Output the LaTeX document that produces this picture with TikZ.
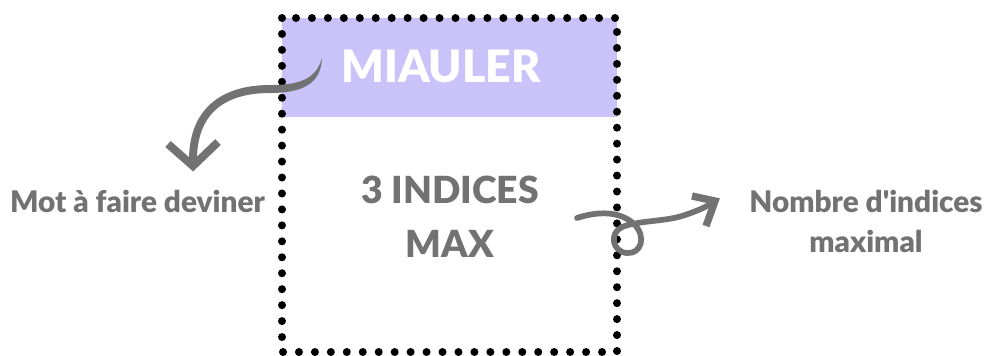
\documentclass[tikz,border=0pt]{standalone}
\usepackage{fontspec}
\setmainfont{Lato}
\newfontfamily\grasse{Lato Black}
\definecolor{lilas}{RGB}{201,195,250}
\definecolor{gris}{RGB}{114,114,114}
\begin{document}
\begin{tikzpicture}[x=0.75pt,y=-0.75pt,
  legende/.style={font=\fontsize{22.3}{30}\selectfont\grasse, text=gris, align=center, inner sep=0pt},
  titre/.style={font=\fontsize{33.5}{40}\selectfont\grasse, text=white, inner sep=0pt},
  indices/.style={font=\fontsize{28}{40.5}\selectfont\grasse, text=gris, align=center, inner sep=0pt},
  pointe/.style={gris, line width=6pt, line cap=butt, line join=miter}]
\useasboundingbox (0,0) rectangle (988,355);
\fill [lilas] (282,18) rectangle (617,117);
\draw [line width=6pt, line cap=round, dash pattern=on 0pt off 11.964pt] (282,18) rectangle (617,352);
\node [titre, anchor=base] (mot) at (441,82) {MIAULER};
\node [indices, anchor=base] (nb) at (450,257) {3 INDICES\\MAX};
\node [legende, anchor=base] (motlab) at (137.5,212) {Mot à faire deviner};
\node [legende, anchor=base] (nblab) at (866,252) {Nombre d{\char"27}indices\\maximal};
% fleche de gauche
\coordinate (gdep) at (322,58) ;
\coordinate (gfin) at (193,166) ;
\fill [gris] (gdep) .. controls (316,80) and (298,85) .. (270,85)
  .. controls (220,85) and (189,110) .. (189,160) -- (197,160)
  .. controls (197,114) and (224,93) .. (270,93)
  .. controls (302,93) and (321,84) .. (gdep) -- cycle ;
\draw [pointe] (168,144) -- (gfin) -- (218,142) ;
% fleche de droite
\coordinate (ddep) at (577,218) ;
\coordinate (dfin) at (715,201) ;
\draw [gris, line width=4.3pt, line cap=round] (ddep) .. controls (598,211) and (620,211) .. (634,224)
  .. controls (647,237) and (641,254) .. (627,253)
  .. controls (612,252) and (609,233) .. (622,227)
  .. controls (640,220) and (665,222) .. (685,215)
  .. controls (700,210) and (710,205) .. (dfin) ;
\draw [pointe, line width=5.5pt] (692,196) -- (dfin) -- (706,226) ;
\end{tikzpicture}
\end{document}
